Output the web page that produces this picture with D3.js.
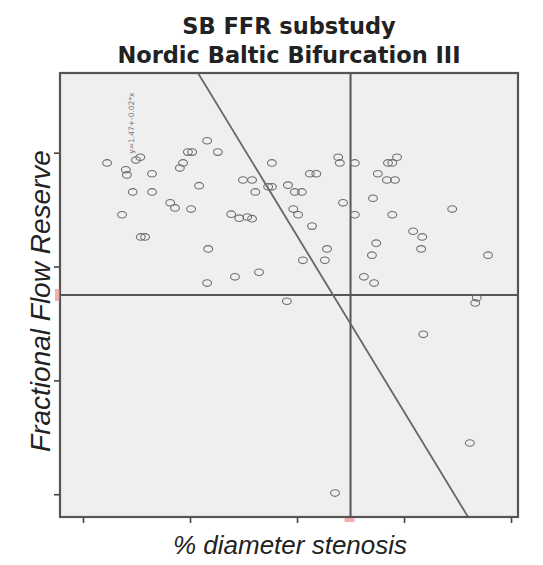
<!DOCTYPE html>
<html>
<head>
<meta charset="utf-8">
<script src="https://cdn.jsdelivr.net/npm/d3@7"></script>
<style>
  html, body { margin: 0; padding: 0; background: #ffffff; }
  svg { display: block; }
</style>
</head>
<body>
<svg id="chart" width="543" height="565"></svg>
<script>
// Side-branch FFR versus percent diameter stenosis
const stenosis = [
  4.5, 8.0, 8.2, 9.9, 10.7, 12.9, 9.3, 12.9, 7.3, 10.8, 11.6,
  16.3, 17.2, 20.2, 23.2, 25.2, 19.6, 20.4, 18.7, 18.1, 21.7,
  23.4, 23.2, 28.4, 32.9, 35.3, 29.9, 31.6, 32.2, 34.6, 35.3,
  27.7, 29.2, 30.7, 31.6,
  47.7, 48.0, 50.8, 42.4, 43.6, 38.3, 39.6, 40.9, 48.6, 39.3, 40.2,
  42.8, 45.6, 41.1, 45.2, 52.5, 54.4, 50.8, 54.2, 55.1, 57.0, 57.8,
  58.7, 56.8, 58.3, 57.8, 69.0, 61.7, 63.4, 63.2, 54.8, 54.0, 75.7,
  38.1, 73.3, 73.6, 63.6, 72.3, 47.1
];
const ffr = [
  0.982, 0.970, 0.961, 0.987, 0.992, 0.963, 0.931, 0.931, 0.891, 0.852, 0.852,
  0.912, 0.903, 0.901, 1.021, 1.001, 1.001, 1.001, 0.982, 0.973, 0.942,
  0.831, 0.771, 0.782, 0.790, 0.982, 0.952, 0.952, 0.931, 0.940, 0.940,
  0.892, 0.885, 0.887, 0.884,
  0.992, 0.982, 0.982, 0.963, 0.963, 0.943, 0.931, 0.931, 0.912, 0.901, 0.891,
  0.871, 0.831, 0.811, 0.811, 0.782, 0.771, 0.891, 0.920, 0.963, 0.982, 0.982,
  0.992, 0.952, 0.952, 0.891, 0.901, 0.862, 0.852, 0.831, 0.841, 0.820, 0.820,
  0.739, 0.736, 0.745, 0.681, 0.490, 0.402
];
const xTicks = [0, 20, 40, 60, 80];
const yTicks = [0.4, 0.6, 0.8, 1.0];
const stenosisCutoff = [50];
const ffrCutoff = [0.75];
// straight line y = a + b*x
const lineIntercept = 1.472;
const lineSlope = -0.01545;
const lineLabel = "y=1.47+-0.02*x";

const titleLines = ["SB FFR substudy", "Nordic Baltic Bifurcation III"];
const xTitle = "% diameter stenosis";
const yTitle = "Fractional Flow Reserve";

const svg = d3.select("#chart");
const plot = { left: 60, top: 73, right: 518, bottom: 517 };

const x = d3.scaleLinear().domain([-4.3, 81.3]).range([plot.left, plot.right]);
const y = d3.scaleLinear().domain([0.36, 1.14]).range([plot.bottom, plot.top]);

// plot background
svg.append("rect")
  .attr("x", plot.left).attr("y", plot.top)
  .attr("width", plot.right - plot.left).attr("height", plot.bottom - plot.top)
  .attr("fill", "#efefef");

svg.append("clipPath").attr("id", "plotClip")
  .append("rect")
  .attr("x", plot.left).attr("y", plot.top)
  .attr("width", plot.right - plot.left).attr("height", plot.bottom - plot.top);

const inner = svg.append("g").attr("clip-path", "url(#plotClip)");

// reference lines
inner.selectAll("line.vref").data(stenosisCutoff).join("line")
  .attr("class", "vref")
  .attr("x1", d => x(d)).attr("x2", d => x(d))
  .attr("y1", plot.top).attr("y2", plot.bottom)
  .attr("stroke", "#555").attr("stroke-width", 2);

inner.selectAll("line.href").data(ffrCutoff).join("line")
  .attr("class", "href")
  .attr("x1", plot.left).attr("x2", plot.right)
  .attr("y1", d => y(d)).attr("y2", d => y(d))
  .attr("stroke", "#555").attr("stroke-width", 2);

// fitted line
const fx0 = x.domain()[0], fx1 = x.domain()[1];
inner.append("line")
  .attr("x1", x(fx0)).attr("y1", y(lineIntercept + lineSlope * fx0))
  .attr("x2", x(fx1)).attr("y2", y(lineIntercept + lineSlope * fx1))
  .attr("stroke", "#666").attr("stroke-width", 1.8);

// points
const pts = stenosis.map((s, i) => ({ s, f: ffr[i] }));
inner.selectAll("ellipse.pt").data(pts).join("ellipse")
  .attr("class", "pt")
  .attr("cx", d => x(d.s)).attr("cy", d => y(d.f))
  .attr("rx", 4.4).attr("ry", 3.3)
  .attr("fill", "none").attr("stroke", "#6e6e6e").attr("stroke-width", 1.1);

// small rotated line label
svg.append("text")
  .attr("transform", `translate(${x(9.6)},${y(1.052)}) rotate(-90)`)
  .attr("font-family", "DejaVu Sans, sans-serif")
  .attr("font-size", 7.5)
  .attr("fill", "#777")
  .attr("text-anchor", "middle")
  .text(lineLabel);

// axes
const xAxis = d3.axisBottom(x).tickValues(xTicks).tickSize(6).tickFormat("");
const yAxis = d3.axisLeft(y).tickValues(yTicks).tickSize(6).tickFormat("");

const gx = svg.append("g").attr("transform", `translate(0,${plot.bottom})`).call(xAxis);
const gy = svg.append("g").attr("transform", `translate(${plot.left},0)`).call(yAxis);
[gx, gy].forEach(g => {
  g.select(".domain").remove();
  g.selectAll(".tick line").attr("stroke", "#444").attr("stroke-width", 1.6);
});

// frame
svg.append("rect")
  .attr("x", plot.left).attr("y", plot.top)
  .attr("width", plot.right - plot.left).attr("height", plot.bottom - plot.top)
  .attr("fill", "none").attr("stroke", "#555").attr("stroke-width", 2.2);

// cutoff markers on the axes
svg.selectAll("rect.ymark").data(ffrCutoff).join("rect")
  .attr("class", "ymark")
  .attr("x", plot.left - 5).attr("y", d => y(d) - 6)
  .attr("width", 5).attr("height", 12)
  .attr("fill", "#e07070").attr("opacity", 0.55);
svg.selectAll("rect.xmark").data(stenosisCutoff).join("rect")
  .attr("class", "xmark")
  .attr("x", d => x(d) - 6).attr("y", plot.bottom + 1)
  .attr("width", 10).attr("height", 4)
  .attr("fill", "#e07070").attr("opacity", 0.55);

// title
svg.selectAll("text.title").data(titleLines).join("text")
  .attr("class", "title")
  .attr("x", 289)
  .attr("y", (d, i) => 34 + i * 29)
  .attr("text-anchor", "middle")
  .attr("font-family", "DejaVu Sans, sans-serif")
  .attr("font-weight", "bold")
  .attr("font-size", 22.5)
  .attr("fill", "#222")
  .text(d => d);

// axis titles
svg.append("text")
  .attr("x", 290).attr("y", 554)
  .attr("text-anchor", "middle")
  .attr("font-family", "Liberation Sans, Arial, sans-serif")
  .attr("font-style", "italic")
  .attr("font-size", 26)
  .attr("fill", "#222")
  .text(xTitle);

svg.append("text")
  .attr("transform", `translate(50,301) rotate(-90)`)
  .attr("text-anchor", "middle")
  .attr("font-family", "Liberation Sans, Arial, sans-serif")
  .attr("font-style", "italic")
  .attr("font-size", 28)
  .attr("fill", "#222")
  .text(yTitle);
</script>
</body>
</html>
